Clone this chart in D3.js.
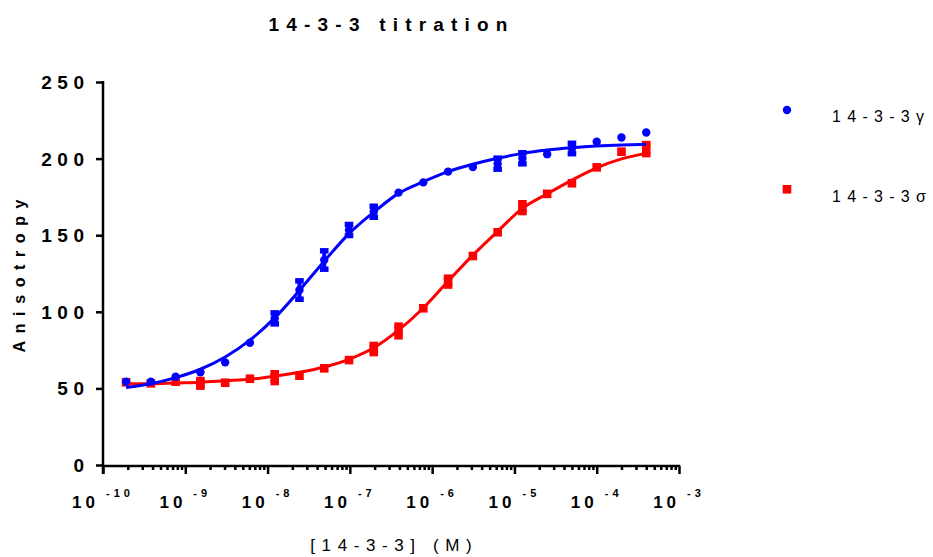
<!DOCTYPE html>
<html>
<head>
<meta charset="utf-8">
<script src="https://cdn.jsdelivr.net/npm/d3@7"></script>
<style>
  body { margin: 0; background: #fff; }
  text { font-family: "Liberation Sans", Arial, sans-serif; }
</style>
</head>
<body>
<div id="chart"></div>
<script>
// concentrations (M), 2-fold dilution series, lowest first
var conc = [1.907e-10, 3.815e-10, 7.629e-10, 1.526e-9, 3.052e-9, 6.104e-9, 1.221e-8, 2.441e-8,
  4.883e-8, 9.766e-8, 1.953e-7, 3.906e-7, 7.8125e-7, 1.5625e-6, 3.125e-6, 6.25e-6,
  1.25e-5, 2.5e-5, 5e-5, 1e-4, 2e-4, 4e-4];

// 14-3-3 gamma : mean, error, fitted curve
var gammaMean = [54.4, 54.4, 57.6, 60.5, 67, 79.8, 95.7, 114.2, 133.8, 153.4, 165.3, 177.8,
  184.5, 191.5, 194.5, 196.7, 200.2, 202.9, 206.6, 211, 213.8, 217];
var gammaErr = [0, 0, 0, 0, 0, 0, 3.6, 6.0, 6.0, 3.6, 3.6, 0,
  0, 0, 0, 3.6, 3.6, 0, 3.4, 0, 0, 0];
var gammaFit = [50.5, 53, 57, 62.5, 70.5, 81.5, 96, 114, 133, 151, 165, 177.3,
  184.9, 191.5, 196.3, 200.2, 203.4, 205.6, 207.1, 208.2, 208.9, 209.3];

// 14-3-3 sigma
var sigmaMean = [54, 53.3, 54.4, 53.3, 53.7, 56.3, 57, 58.3, 63.1, 68.5, 75.7, 87.5,
  102.3, 119.7, 136.4, 151.9, 168, 177, 183.9, 194.3, 204.5, 206.2];
var sigmaErr = [0, 0, 0, 2.5, 0, 0, 3.2, 0, 0, 0, 3.0, 3.8,
  0, 2.9, 0, 0, 3.2, 0, 0, 0, 0, 3.6];
var sigmaFit = [53, 53, 53.5, 54, 55, 56, 58, 60.5, 64, 69, 76.5, 88,
  102.5, 120, 137, 152.5, 167.5, 177, 186, 194, 199.8, 203.4];

var xMajor = [1e-10, 1e-9, 1e-8, 1e-7, 1e-6, 1e-5, 1e-4, 1e-3];
var xExp = ["-10", "-9", "-8", "-7", "-6", "-5", "-4", "-3"];
var yTicks = [0, 50, 100, 150, 200, 250];

var series = [
  { name: "14-3-3σ", color: "#ff0000", shape: "square", mean: sigmaMean, err: sigmaErr, fit: sigmaFit },
  { name: "14-3-3γ", color: "#0000ff", shape: "circle", mean: gammaMean, err: gammaErr, fit: gammaFit }
];

var svgWidth = 933, svgHeight = 557;
var svg = d3.select("#chart").append("svg")
  .attr("width", svgWidth)
  .attr("height", svgHeight);

var x = d3.scaleLog().domain([1e-10, 1e-3]).range([103, 679]);
var y = d3.scaleLinear().domain([0, 250]).range([465, 82]);

// minor ticks 2..9 per decade
var xMinor = [];
xMajor.slice(0, -1).forEach(function(m) {
  for (var k = 2; k <= 9; k++) xMinor.push(m * k);
});

// x axis
svg.append("g")
  .attr("transform", "translate(0,466)")
  .call(d3.axisBottom(x).tickValues(xMinor).tickSize(4).tickSizeOuter(0).tickFormat(""))
  .call(function(g) { g.select(".domain").remove(); });
var xAxis = svg.append("g")
  .attr("transform", "translate(0,466)")
  .call(d3.axisBottom(x).tickValues(xMajor).tickSize(8).tickSizeOuter(0).tickFormat(""));
svg.selectAll("g .tick line").attr("stroke-width", 2.5).attr("stroke", "#000");
xAxis.select(".domain").attr("stroke-width", 2.5).attr("d", "M101.8,0H680.2");

// x tick labels with superscripts
var xl = svg.append("g").attr("font-weight", "bold");
xMajor.forEach(function(v, i) {
  var t = xl.append("text")
    .attr("x", x(v))
    .attr("y", 508)
    .attr("text-anchor", "middle")
    .attr("letter-spacing", 4);
  t.append("tspan").attr("font-size", 17).text("10");
  t.append("tspan").attr("font-size", 11).attr("dx", 7).attr("dy", -11).text(xExp[i]);
});

// y axis
var yAxis = svg.append("g")
  .attr("transform", "translate(103,0)")
  .call(d3.axisLeft(y).tickValues(yTicks).tickSize(7).tickSizeOuter(0).tickFormat(""));
yAxis.selectAll(".tick line").attr("stroke-width", 2.5);
yAxis.select(".domain").attr("stroke-width", 2.5).attr("d", "M0,81V474");

yTicks.forEach(function(v) {
  svg.append("text")
    .attr("x", 84 + 5.5)
    .attr("y", y(v) + 7)
    .attr("text-anchor", "end")
    .attr("font-size", 19)
    .attr("font-weight", "bold")
    .attr("letter-spacing", 5.5)
    .text(v);
});

// curves and points
var line = d3.line()
  .x(function(d) { return x(d[0]); })
  .y(function(d) { return y(d[1]); })
  .curve(d3.curveMonotoneX);

series.forEach(function(s) {
  var g = svg.append("g");
  g.append("path")
    .datum(conc.map(function(c, i) { return [c, s.fit[i]]; }))
    .attr("d", line)
    .attr("fill", "none")
    .attr("stroke", s.color)
    .attr("stroke-width", 3);

  var pts = conc.map(function(c, i) { return { c: c, m: s.mean[i], e: s.err[i] }; });

  var eb = g.selectAll(".eb").data(pts.filter(function(d) { return d.e > 0; })).enter().append("g");
  eb.append("line")
    .attr("x1", function(d) { return x(d.c); }).attr("x2", function(d) { return x(d.c); })
    .attr("y1", function(d) { return y(d.m + d.e); }).attr("y2", function(d) { return y(d.m - d.e); })
    .attr("stroke", s.color).attr("stroke-width", 4);
  [1, -1].forEach(function(sg) {
    eb.append("line")
      .attr("x1", function(d) { return x(d.c) - 4.3; }).attr("x2", function(d) { return x(d.c) + 4.3; })
      .attr("y1", function(d) { return y(d.m + sg * d.e); }).attr("y2", function(d) { return y(d.m + sg * d.e); })
      .attr("stroke", s.color).attr("stroke-width", 5.5);
  });

  if (s.shape === "circle") {
    g.selectAll("circle").data(pts).enter().append("circle")
      .attr("cx", function(d) { return x(d.c); })
      .attr("cy", function(d) { return y(d.m); })
      .attr("r", 4.2)
      .attr("fill", s.color);
  } else {
    g.selectAll("rect.pt").data(pts).enter().append("rect")
      .attr("x", function(d) { return x(d.c) - 4.3; })
      .attr("y", function(d) { return y(d.m) - 4.3; })
      .attr("width", 8.6).attr("height", 8.6)
      .attr("fill", s.color);
  }
});

// title and axis labels
svg.append("text")
  .attr("x", 388 + 3.6)
  .attr("y", 31)
  .attr("text-anchor", "middle")
  .attr("font-size", 19)
  .attr("font-weight", "bold")
  .attr("letter-spacing", 7.2)
  .text("14-3-3 titration");

svg.append("text")
  .attr("transform", "translate(25," + (276 - 3.8) + ") rotate(-90)")
  .attr("text-anchor", "middle")
  .attr("font-size", 16)
  .attr("font-weight", "bold")
  .attr("letter-spacing", 7.6)
  .text("Anisotropy");

svg.append("text")
  .attr("x", 391 + 3.3)
  .attr("y", 551)
  .attr("text-anchor", "middle")
  .attr("font-size", 17)
  .attr("letter-spacing", 6.6)
  .text("[14-3-3] (M)");

// legend
var legend = svg.append("g");
legend.append("circle").attr("cx", 787).attr("cy", 110).attr("r", 4.2).attr("fill", "#0000ff");
legend.append("text").attr("x", 832).attr("y", 122).attr("font-size", 16).attr("letter-spacing", 6.3).text(series[1].name);
legend.append("rect").attr("x", 782.7).attr("y", 185).attr("width", 8.6).attr("height", 8.6).attr("fill", "#ff0000");
legend.append("text").attr("x", 832).attr("y", 202).attr("font-size", 16).attr("letter-spacing", 6.3).text(series[0].name);
</script>
</body>
</html>
